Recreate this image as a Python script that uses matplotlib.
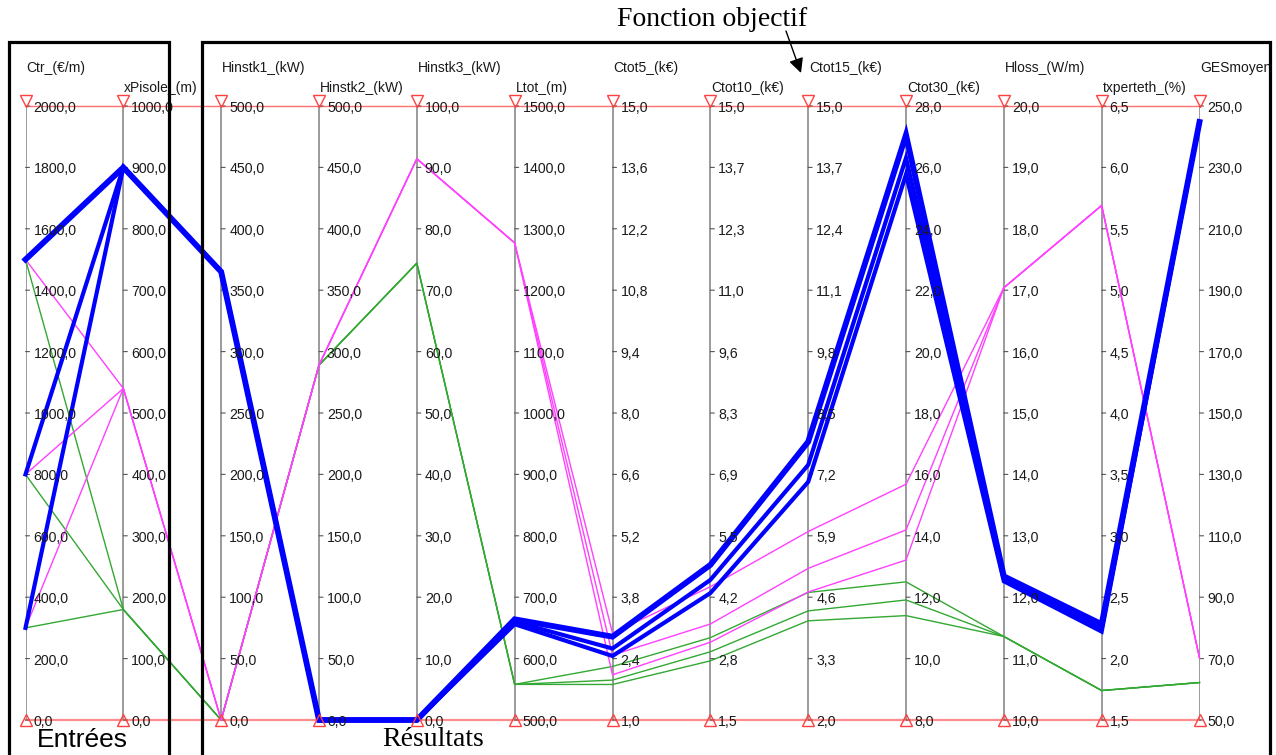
import numpy as np
import matplotlib.pyplot as plt

plt.rcParams['font.family'] = ['Liberation Sans', 'DejaVu Sans']

# axes of the parallel plot
axis_names = ['Ctr_(€/m)', 'xPisole_(m)', 'Hinstk1_(kW)', 'Hinstk2_(kW)', 'Hinstk3_(kW)',
              'Ltot_(m)', 'Ctot5_(k€)', 'Ctot10_(k€)', 'Ctot15_(k€)', 'Ctot30_(k€)',
              'Hloss_(W/m)', 'txperteth_(%)', 'GESmoyen']
axis_min = [0, 0, 0, 0, 0, 500, 1.0, 1.5, 2.0, 8.0, 10.0, 1.5, 50]
axis_max = [2000, 1000, 500, 500, 100, 1500, 15.0, 15.0, 15.0, 28.0, 20.0, 6.5, 250]

tick_labels = [
    ['0,0', '200,0', '400,0', '600,0', '800,0', '1000,0', '1200,0', '1400,0', '1600,0', '1800,0', '2000,0'],
    ['0,0', '100,0', '200,0', '300,0', '400,0', '500,0', '600,0', '700,0', '800,0', '900,0', '1000,0'],
    ['0,0', '50,0', '100,0', '150,0', '200,0', '250,0', '300,0', '350,0', '400,0', '450,0', '500,0'],
    ['0,0', '50,0', '100,0', '150,0', '200,0', '250,0', '300,0', '350,0', '400,0', '450,0', '500,0'],
    ['0,0', '10,0', '20,0', '30,0', '40,0', '50,0', '60,0', '70,0', '80,0', '90,0', '100,0'],
    ['500,0', '600,0', '700,0', '800,0', '900,0', '1000,0', '1100,0', '1200,0', '1300,0', '1400,0', '1500,0'],
    ['1,0', '2,4', '3,8', '5,2', '6,6', '8,0', '9,4', '10,8', '12,2', '13,6', '15,0'],
    ['1,5', '2,8', '4,2', '5,5', '6,9', '8,3', '9,6', '11,0', '12,3', '13,7', '15,0'],
    ['2,0', '3,3', '4,6', '5,9', '7,2', '8,5', '9,8', '11,1', '12,4', '13,7', '15,0'],
    ['8,0', '10,0', '12,0', '14,0', '16,0', '18,0', '20,0', '22,0', '24,0', '26,0', '28,0'],
    ['10,0', '11,0', '12,0', '13,0', '14,0', '15,0', '16,0', '17,0', '18,0', '19,0', '20,0'],
    ['1,5', '2,0', '2,5', '3,0', '3,5', '4,0', '4,5', '5,0', '5,5', '6,0', '6,5'],
    ['50,0', '70,0', '90,0', '110,0', '130,0', '150,0', '170,0', '190,0', '210,0', '230,0', '250,0'],
]

# runs (one value per axis)
blue_runs = [
    [1500, 900, 365, 0, 0, 664, 2.90, 4.91, 7.89, 27.06, 12.34, 2.28, 244.8],
    [800, 900, 365, 0, 0, 660, 2.63, 4.58, 7.40, 26.31, 12.30, 2.25, 244.8],
    [300, 900, 365, 0, 0, 656, 2.46, 4.29, 7.04, 25.77, 12.26, 2.22, 244.8],
]
magenta_runs = [
    [1500, 540, 0, 289, 91.4, 1277, 2.98, 4.43, 5.99, 15.68, 17.04, 5.69, 70.2],
    [800, 540, 0, 289, 91.4, 1277, 2.48, 3.61, 5.21, 14.19, 17.04, 5.69, 70.2],
    [300, 540, 0, 289, 91.4, 1277, 2.03, 3.21, 4.71, 13.21, 17.04, 5.69, 70.2],
]
green_runs = [
    [1500, 180, 0, 289, 74.4, 558, 2.22, 3.31, 4.70, 12.50, 11.36, 1.74, 62.2],
    [800, 180, 0, 289, 74.4, 558, 1.91, 3.00, 4.31, 11.91, 11.36, 1.74, 62.2],
    [300, 180, 0, 289, 74.4, 558, 1.81, 2.80, 4.10, 11.40, 11.36, 1.74, 62.2],
]

W, H = 1276, 755
fig = plt.figure(figsize=(W / 100, H / 100), dpi=100)

# main axes: x = axis index, y = normalised value
x0, x1 = 25.5, 1199.5
y_top, y_bot = 106, 720
ax = fig.add_axes([x0 / W, 1 - y_bot / H, (x1 - x0) / W, (y_bot - y_top) / H])
ax.set_xlim(0, len(axis_names) - 1)
ax.set_ylim(0, 1)
ax.axis('off')

lo = np.array(axis_min, dtype=float)
hi = np.array(axis_max, dtype=float)
xs = np.arange(len(axis_names))


def norm(run):
    return (np.array(run, dtype=float) - lo) / (hi - lo)


# vertical axes, ticks, labels
for i, name in enumerate(axis_names):
    ax.plot([i, i], [0, 1], color='#8a8a8a', lw=1.2, zorder=1)
    for k, lab in enumerate(tick_labels[i]):
        yk = k / 10
        ax.annotate('', xy=(i, yk), xytext=(4, 0), textcoords='offset pixels',
                    arrowprops=dict(arrowstyle='-', color='#555555', lw=0.8,
                                    shrinkA=0, shrinkB=0))
        ax.annotate(lab, xy=(i, yk), xytext=(8, -2), textcoords='offset pixels',
                    ha='left', va='center', fontsize=10.2, color='#1a1a1a', zorder=6)
    dy = 38 if i % 2 == 0 else 18
    ax.annotate(name, xy=(i, 1), xytext=(1, dy), textcoords='offset pixels',
                ha='left', va='center', fontsize=10, color='#1a1a1a')

# red limit lines and triangles
ax.plot([0, xs[-1]], [1, 1], color='#ff7070', lw=1.0, zorder=2, clip_on=False)
ax.plot([0, xs[-1]], [0, 0], color='#ff7070', lw=1.6, alpha=0.8, zorder=2, clip_on=False)
ax.plot(xs, np.ones(len(xs)) + 5 / 614, 'v', ms=8, mfc='none', mec='#ff4040',
        mew=1.0, clip_on=False, zorder=7)
ax.plot(xs, np.zeros(len(xs)), '^', ms=8, mfc='none', mec='#ff4040',
        mew=1.0, clip_on=False, zorder=7)

# the runs
for run in green_runs:
    ax.plot(xs, norm(run), color='#33a833', lw=1.0, zorder=3, clip_on=False)
for run in magenta_runs:
    ax.plot(xs, norm(run), color='#ff40ff', lw=1.0, zorder=3, clip_on=False)
for j, run in enumerate(blue_runs):
    ax.plot(xs, norm(run), color='#0000ff', lw=4.2 if j == 0 else 3.0,
            zorder=4, clip_on=False, solid_joinstyle='miter')

# overlay in pixel coords for the frames and comments
ov = fig.add_axes([0, 0, 1, 1])
ov.set_xlim(0, W)
ov.set_ylim(H, 0)
ov.axis('off')

ov.plot([8.5, 8.5, 169, 169], [800, 42, 42, 800], color='black', lw=2.3,
        solid_joinstyle='miter')
ov.plot([202, 202, 1270, 1270], [800, 42, 42, 800], color='black', lw=2.3,
        solid_joinstyle='miter')

ov.text(82, 740, 'Entrées', ha='center', va='center', fontsize=19,
        family=['Liberation Sans', 'DejaVu Sans'])
ov.text(433, 740, 'Résultats', ha='center', va='center', fontsize=20,
        family=['Liberation Serif', 'DejaVu Serif'])
ov.text(712, 20, 'Fonction objectif', ha='center', va='center', fontsize=20,
        family=['Liberation Serif', 'DejaVu Serif'])
ov.annotate('', xy=(801, 73), xytext=(786, 31),
            arrowprops=dict(arrowstyle='-|>', color='black', lw=1.0,
                            mutation_scale=22, shrinkA=0, shrinkB=0))

plt.savefig('out.png', dpi=100)
